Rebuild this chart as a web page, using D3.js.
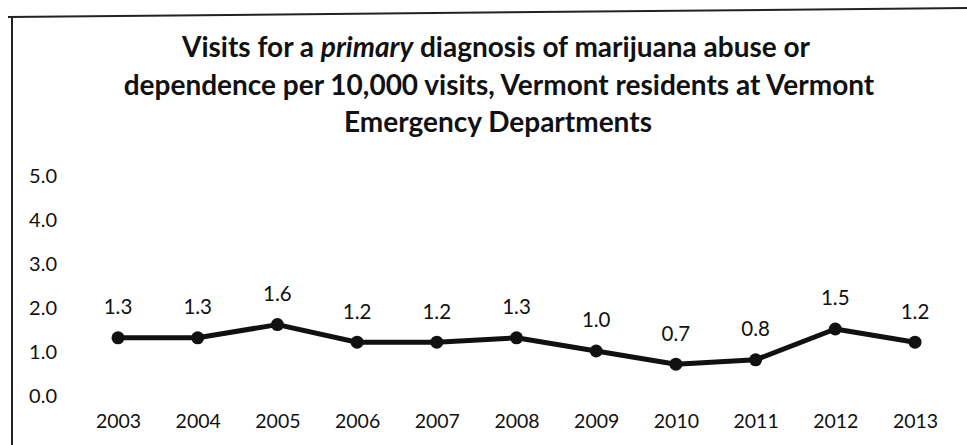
<!DOCTYPE html>
<html>
<head>
<meta charset="utf-8">
<script src="https://cdn.jsdelivr.net/npm/d3@7"></script>
<style>
  body { margin: 0; background: #fff; }
  svg { display: block; }
  text { font-family: Lato, "Open Sans", sans-serif; fill: #111; }
</style>
</head>
<body>
<svg id="chart" width="967" height="445"></svg>
<script>
'use strict';

// chart data
const years = ['2003', '2004', '2005', '2006', '2007', '2008', '2009', '2010', '2011', '2012', '2013'];
const rates = [1.3, 1.3, 1.6, 1.2, 1.2, 1.3, 1.0, 0.7, 0.8, 1.5, 1.2];
const yTicks = [0, 1, 2, 3, 4, 5];

const svg = d3.select('#chart');
const ink = '#111';

// frame of the scanned chart box
svg.append('path')
    .attr('d', 'M8,17 L967,8')
    .attr('stroke', '#222')
    .attr('stroke-width', 2)
    .attr('fill', 'none');
svg.append('line')
    .attr('x1', 12).attr('x2', 12)
    .attr('y1', 16).attr('y2', 445)
    .attr('stroke', '#222')
    .attr('stroke-width', 2);

// title
const title = svg.append('text')
    .attr('text-anchor', 'middle')
    .style('font-weight', 'bold')
    .style('font-size', '28px');
const t1 = title.append('tspan').attr('x', 496).attr('y', 57);
t1.append('tspan').text('Visits for a ');
t1.append('tspan').style('font-style', 'italic').text('primary');
t1.append('tspan').text(' diagnosis of marijuana abuse or');
title.append('tspan').attr('x', 499).attr('y', 95)
    .text('dependence per 10,000 visits, Vermont residents at Vermont');
title.append('tspan').attr('x', 498).attr('y', 132)
    .text('Emergency Departments');

const x = d3.scalePoint()
    .domain(years)
    .range([118, 915]);

const y = d3.scaleLinear()
    .domain([0, 5])
    .range([395, 175]);

// y axis: labels only, no line or ticks
const yAxis = svg.append('g')
    .attr('transform', 'translate(57,0)')
    .call(d3.axisLeft(y).tickValues(yTicks).tickFormat(d3.format('.1f')).tickSize(0).tickPadding(0));
yAxis.select('.domain').remove();
yAxis.selectAll('text')
    .style('font-size', '20px')
    .attr('dy', '0.36em')
    .style('fill', ink);

// x axis: labels only
const xAxis = svg.append('g')
    .attr('transform', 'translate(0,421)')
    .call(d3.axisBottom(x).tickSize(0).tickPadding(0));
xAxis.select('.domain').remove();
xAxis.selectAll('text')
    .style('font-size', '19.5px')
    .attr('dy', '0.36em')
    .style('fill', ink);

const pts = years.map((yr, i) => ({ year: yr, value: rates[i] }));

const line = d3.line()
    .x(d => x(d.year))
    .y(d => y(d.value));

svg.append('path')
    .datum(pts)
    .attr('d', line)
    .attr('fill', 'none')
    .attr('stroke', ink)
    .attr('stroke-width', 5)
    .attr('stroke-linejoin', 'round');

svg.selectAll('circle.dot')
    .data(pts)
    .enter().append('circle')
    .attr('class', 'dot')
    .attr('cx', d => x(d.year))
    .attr('cy', d => y(d.value))
    .attr('r', 6.5)
    .attr('fill', ink);

svg.selectAll('text.val')
    .data(pts)
    .enter().append('text')
    .attr('class', 'val')
    .attr('text-anchor', 'middle')
    .attr('x', d => x(d.year))
    .attr('y', d => y(d.value) - 31)
    .attr('dy', '0.36em')
    .style('font-size', '20.5px')
    .text(d => d.value.toFixed(1));
</script>
</body>
</html>
